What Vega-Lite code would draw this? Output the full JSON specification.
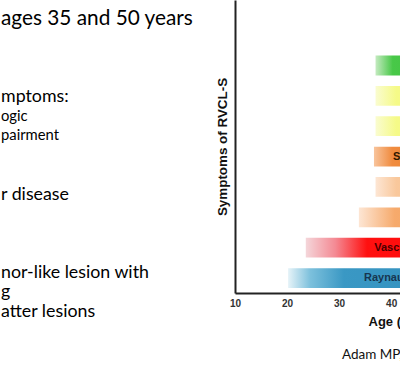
{
  "$schema": "https://vega.github.io/schema/vega-lite/v6.json",
  "width": 165,
  "height": 293,
  "autosize": {"type": "none"},
  "padding": {"left": 235, "top": 0, "right": 0, "bottom": 81},
  "background": "white",
  "config": {"view": {"stroke": null}, "axis": {"grid": false}},
  "title": {"text": "Adam MP, et al.", "orient": "bottom", "anchor": "start", "frame": "group", "dx": 107, "offset": 20, "font": "Lato", "fontSize": 13.5, "fontWeight": "normal", "color": "#111"},
  "datasets": {
    "bars": [
      {"symptom": "Death", "start": 37, "end": 70},
      {"symptom": "Cognitive decline", "start": 37, "end": 70},
      {"symptom": "Liver disease", "start": 37, "end": 70},
      {"symptom": "Stroke", "start": 36.7, "end": 50.6},
      {"symptom": "Kidney disease", "start": 37, "end": 70},
      {"symptom": "Anemia", "start": 33.8, "end": 70},
      {"symptom": "Vascular retinopathy", "start": 23.6, "end": 70.7},
      {"symptom": "Raynaud's phenomenon", "start": 20.2, "end": 73.8}
    ],
    "slide": [
      {"text": "ages 35 and 50 years", "line": 0, "level": 0},
      {"text": "mptoms:", "line": 4, "level": 1},
      {"text": "ogic", "line": 5, "level": 2},
      {"text": "pairment", "line": 6, "level": 2},
      {"text": "r disease", "line": 9, "level": 1},
      {"text": "nor-like lesion with", "line": 13, "level": 1},
      {"text": "g", "line": 14, "level": 1},
      {"text": "atter lesions", "line": 15, "level": 1}
    ]
  },
  "layer": [
    {
      "data": {"name": "bars"},
      "encoding": {
        "y": {
          "field": "symptom", "type": "nominal", "sort": null,
          "scale": {"domain": ["Death", "Cognitive decline", "Liver disease", "Stroke", "Kidney disease", "Anemia", "Vascular retinopathy", "Raynaud's phenomenon"], "paddingInner": 0.349, "paddingOuter": 1.787, "align": 0.916},
          "axis": {"ticks": false, "labels": false, "domainColor": "#222", "domainWidth": 2, "title": "Symptoms of RVCL-S", "titleFont": "Liberation Sans", "titleFontSize": 13.4, "titleFontWeight": "bold", "titleColor": "#111", "titlePadding": 6}
        }
      },
      "layer": [
        {"transform": [{"filter": "datum.symptom === 'Death'"}], "mark": {"type": "bar", "clip": true, "color": {"gradient": "linear", "x1": 0, "x2": 1, "y1": 0, "y2": 0, "stops": [{"offset": 0, "color": "#c4eac0"}, {"offset": 0.1, "color": "#48c848"}, {"offset": 1, "color": "#30b830"}]}},
         "encoding": {"x": {"field": "start", "type": "quantitative", "scale": {"domain": [10, 41.7], "nice": false, "zero": false},
           "axis": {"values": [10, 20, 30, 40], "ticks": false, "labelFlush": false, "labelFont": "Liberation Sans", "labelFontWeight": "bold", "labelFontSize": 10, "labelColor": "#333", "labelPadding": 5, "domainColor": "#222", "domainWidth": 2, "title": "Age (years)", "titleFont": "Liberation Sans", "titleFontSize": 13, "titleFontWeight": "bold", "titleColor": "#111", "titleAnchor": "start", "titleAlign": "left", "titleX": 133, "titleY": 22, "titleBaseline": "top"}},
           "x2": {"field": "end"}}},
        {"transform": [{"filter": "datum.symptom === 'Cognitive decline'"}], "mark": {"type": "bar", "clip": true, "color": {"gradient": "linear", "x1": 0, "x2": 1, "y1": 0, "y2": 0, "stops": [{"offset": 0, "color": "#fafcd0"}, {"offset": 0.12, "color": "#f5fa88"}, {"offset": 1, "color": "#f0f660"}]}},
         "encoding": {"x": {"field": "start", "type": "quantitative", "scale": {"domain": [10, 41.7], "nice": false, "zero": false}}, "x2": {"field": "end"}}},
        {"transform": [{"filter": "datum.symptom === 'Liver disease'"}], "mark": {"type": "bar", "clip": true, "color": {"gradient": "linear", "x1": 0, "x2": 1, "y1": 0, "y2": 0, "stops": [{"offset": 0, "color": "#fafcd0"}, {"offset": 0.12, "color": "#f5fa88"}, {"offset": 1, "color": "#f0f660"}]}},
         "encoding": {"x": {"field": "start", "type": "quantitative", "scale": {"domain": [10, 41.7], "nice": false, "zero": false}}, "x2": {"field": "end"}}},
        {"transform": [{"filter": "datum.symptom === 'Stroke'"}], "mark": {"type": "bar", "clip": true, "color": {"gradient": "linear", "x1": 0, "x2": 1, "y1": 0, "y2": 0, "stops": [{"offset": 0, "color": "#f8c49c"}, {"offset": 0.25, "color": "#f08c40"}, {"offset": 1, "color": "#ec7a20"}]}},
         "encoding": {"x": {"field": "start", "type": "quantitative", "scale": {"domain": [10, 41.7], "nice": false, "zero": false}}, "x2": {"field": "end"}}},
        {"transform": [{"filter": "datum.symptom === 'Kidney disease'"}], "mark": {"type": "bar", "clip": true, "color": {"gradient": "linear", "x1": 0, "x2": 1, "y1": 0, "y2": 0, "stops": [{"offset": 0, "color": "#fde6d4"}, {"offset": 0.12, "color": "#f9c89c"}, {"offset": 1, "color": "#f5a860"}]}},
         "encoding": {"x": {"field": "start", "type": "quantitative", "scale": {"domain": [10, 41.7], "nice": false, "zero": false}}, "x2": {"field": "end"}}},
        {"transform": [{"filter": "datum.symptom === 'Anemia'"}], "mark": {"type": "bar", "clip": true, "color": {"gradient": "linear", "x1": 0, "x2": 1, "y1": 0, "y2": 0, "stops": [{"offset": 0, "color": "#fde6d4"}, {"offset": 0.19, "color": "#f6aa6c"}, {"offset": 1, "color": "#f09040"}]}},
         "encoding": {"x": {"field": "start", "type": "quantitative", "scale": {"domain": [10, 41.7], "nice": false, "zero": false}}, "x2": {"field": "end"}}},
        {"transform": [{"filter": "datum.symptom === 'Vascular retinopathy'"}], "mark": {"type": "bar", "clip": true, "color": {"gradient": "linear", "x1": 0, "x2": 1, "y1": 0, "y2": 0, "stops": [{"offset": 0, "color": "#f4d6da"}, {"offset": 0.12, "color": "#f48a94"}, {"offset": 0.25, "color": "#ff1010"}, {"offset": 1, "color": "#ff0000"}]}},
         "encoding": {"x": {"field": "start", "type": "quantitative", "scale": {"domain": [10, 41.7], "nice": false, "zero": false}}, "x2": {"field": "end"}}},
        {"transform": [{"filter": "datum.symptom === \"Raynaud's phenomenon\""}], "mark": {"type": "bar", "clip": true, "color": {"gradient": "linear", "x1": 0, "x2": 1, "y1": 0, "y2": 0, "stops": [{"offset": 0, "color": "#e6f3f8"}, {"offset": 0.08, "color": "#7cc0dc"}, {"offset": 0.2, "color": "#3a98c4"}, {"offset": 1, "color": "#2a88b8"}]}},
         "encoding": {"x": {"field": "start", "type": "quantitative", "scale": {"domain": [10, 41.7], "nice": false, "zero": false}}, "x2": {"field": "end"}}},
        {
          "transform": [
            {"fold": ["start", "end"], "as": ["bound", "age"]},
            {"aggregate": [{"op": "mean", "field": "age", "as": "mid"}], "groupby": ["symptom"]}
          ],
          "mark": {"type": "text", "clip": true, "font": "Liberation Sans", "fontWeight": "bold", "fontSize": 11, "baseline": "middle", "align": "center"},
          "encoding": {
            "x": {"field": "mid", "type": "quantitative", "scale": {"domain": [10, 41.7], "nice": false, "zero": false}},
            "text": {"field": "symptom"},
            "color": {"field": "symptom", "type": "nominal", "legend": null,
              "scale": {"domain": ["Death", "Cognitive decline", "Liver disease", "Stroke", "Kidney disease", "Anemia", "Vascular retinopathy", "Raynaud's phenomenon"],
                        "range": ["#1a4d1a", "#4a4a00", "#4a4a00", "#2e1800", "#4a2a00", "#4a2a00", "#4a0000", "#173650"]}}
          }
        }
      ]
    },
    {
      "data": {"name": "slide"},
      "mark": {"type": "text", "align": "left", "baseline": "middle", "font": "Lato", "color": "#000", "dx": 1},
      "encoding": {
        "text": {"field": "text"},
        "x": {"datum": 0, "type": "quantitative", "scale": {"domain": [0, 1], "range": [-235, 165]}, "axis": null},
        "y": {"field": "line", "type": "quantitative", "scale": {"domain": [-0.974, 14.05], "reverse": true, "zero": false, "nice": false}, "axis": null},
        "size": {"field": "level", "type": "ordinal", "scale": {"domain": [0, 1, 2], "range": [20.8, 14.8, 11.2]}, "legend": null}
      }
    }
  ],
  "resolve": {"scale": {"x": "independent", "y": "independent"}}
}
